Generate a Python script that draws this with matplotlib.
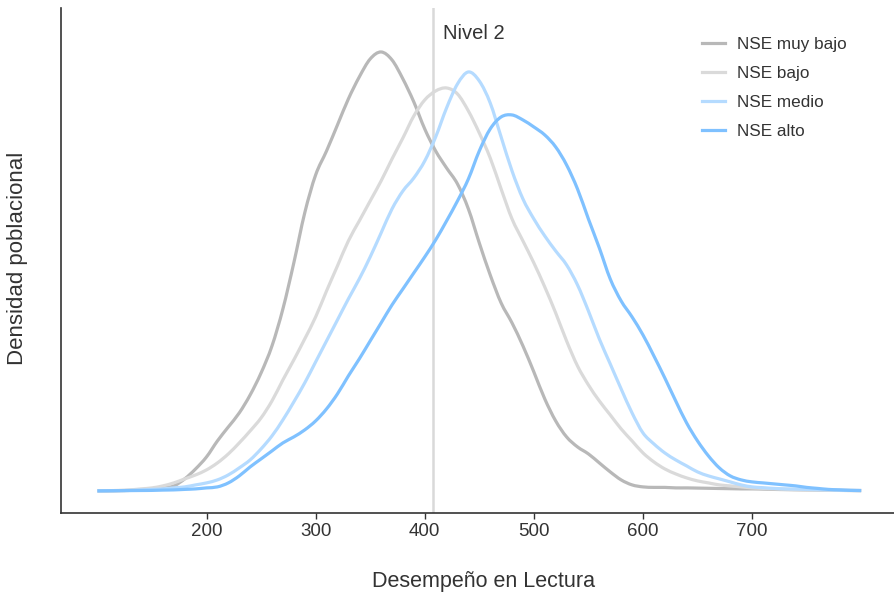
import numpy as np
import matplotlib
matplotlib.use("Agg")
import matplotlib.pyplot as plt
from matplotlib.path import Path
from matplotlib.patches import PathPatch
from matplotlib.lines import Line2D

plt.rcParams['font.family'] = ['Liberation Sans', 'DejaVu Sans']

# Score grid (Desempeño en Lectura)
x = [100, 110, 120, 130, 140, 150, 160, 170, 180, 190,
     200, 210, 220, 230, 240, 250, 260, 270, 280, 290,
     300, 310, 320, 330, 340, 350, 360, 370, 380, 390,
     400, 410, 420, 430, 440, 450, 460, 470, 480, 490,
     500, 510, 520, 530, 540, 550, 560, 570, 580, 590,
     600, 610, 620, 630, 640, 650, 660, 670, 680, 690,
     700, 710, 720, 730, 740, 750, 760, 770, 780, 790, 800]

# Population density (arbitrary units)
muy_bajo = [0, 0, 0.2, 0.5, 1, 1.5, 3, 5, 12, 22,
            34, 50, 64, 78, 96, 118, 145, 182, 228, 278,
            316, 340, 366, 392, 414, 432, 439, 431, 412, 389,
            362, 340, 323, 307, 282, 248, 216, 188, 168, 145,
            119, 92, 70, 54, 44, 37, 28, 19, 11, 6,
            4, 3.5, 3.5, 3, 3, 2.8, 2.6, 2.4, 2.2, 2,
            2, 1.8, 1.5, 1.3, 1.1, 1, 0.8, 0.6, 0.5, 0.4, 0.3]

bajo = [0, 0.2, 0.5, 1, 2, 3, 5, 8, 12, 16,
        21, 28, 37, 48, 60, 73, 90, 111, 131, 152,
        174, 200, 225, 250, 270, 290, 310, 332, 353, 375,
        391, 400, 403, 397, 380, 358, 333, 302, 272, 250,
        228, 204, 178, 150, 125, 106, 90, 76, 62, 50,
        38, 29, 22, 17, 13, 10, 8, 6, 5, 4,
        3, 2.5, 2, 1.7, 1.4, 1, 0.8, 0.6, 0.5, 0.4, 0.3]

medio = [0, 0.1, 0.3, 0.6, 1, 1.5, 2, 3, 4, 6,
         8, 11, 16, 23, 31, 42, 55, 71, 89, 108,
         129, 150, 171, 192, 212, 234, 258, 282, 300, 313,
         330, 354, 383, 407, 419, 410, 388, 354, 320, 292,
         272, 255, 240, 226, 206, 180, 152, 127, 102, 78,
         58, 47, 38, 31, 25, 19, 15, 12, 9, 6,
         4, 3.2, 2.5, 2, 1.8, 1.5, 1.2, 1, 0.8, 0.6, 0.5]

alto = [0, 0.1, 0.2, 0.3, 0.4, 0.5, 0.8, 1, 1.5, 2,
        3, 4, 8, 15, 24, 32, 40, 48, 54, 61,
        70, 82, 97, 115, 132, 150, 168, 186, 202, 218,
        234, 251, 270, 290, 312, 340, 362, 374, 376, 371,
        364, 356, 344, 326, 302, 272, 243, 212, 190, 174,
        156, 135, 113, 90, 68, 50, 35, 23, 15, 11,
        9, 8, 7, 6, 5, 3.5, 2.5, 1.5, 1, 0.5, 0.3]

series_names = ["NSE muy bajo", "NSE bajo", "NSE medio", "NSE alto"]
series_values = [muy_bajo, bajo, medio, alto]
series_colors = ["#b8b8b8", "#dadada", "#b5dbff", "#7fc1ff"]

nivel2 = 407.47
xticks = [200, 300, 400, 500, 600, 700]


def smooth_path(xs, ys):
    """Catmull-Rom spline through the read points, drawn as cubic Beziers."""
    xs = np.asarray(xs, float)
    ys = np.asarray(ys, float)
    pts = np.column_stack([xs, ys])
    verts = [pts[0]]
    codes = [Path.MOVETO]
    n = len(pts)
    for i in range(n - 1):
        p0 = pts[i - 1] if i > 0 else pts[i]
        p1 = pts[i]
        p2 = pts[i + 1]
        p3 = pts[i + 2] if i + 2 < n else pts[i + 1]
        c1 = p1 + (p2 - p0) / 6.0
        c2 = p2 - (p3 - p1) / 6.0
        verts += [c1, c2, p2]
        codes += [Path.CURVE4] * 3
    return Path(verts, codes)


fig = plt.figure(figsize=(8.95, 5.95), dpi=100)
ax = fig.add_axes([0.068, 0.138, 0.932, 0.8486])

ax.axvline(nivel2, color="#d9d9d9", lw=1.8, zorder=1)
handles = []
for name, vals, col in zip(series_names, series_values, series_colors):
    patch = PathPatch(smooth_path(x, vals), facecolor="none", edgecolor=col,
                      lw=2.3, zorder=2, capstyle='butt', joinstyle='round')
    ax.add_patch(patch)
    handles.append(Line2D([], [], color=col, lw=2.3, label=name))

ax.text(nivel2 + 9, 457, "Nivel 2", ha="left", va="center",
        fontsize=14.5, color="#333333")

ax.set_xlim(66.5, 831)
ax.set_ylim(-22, 483)
ax.set_xticks(xticks)
ax.set_xticklabels([str(t) for t in xticks])
ax.set_yticks([])
ax.tick_params(axis='x', direction='out', length=4, width=1,
               colors="#333333", labelsize=13.5, pad=3)
for s in ["top", "right"]:
    ax.spines[s].set_visible(False)
for s in ["left", "bottom"]:
    ax.spines[s].set_color("#333333")
    ax.spines[s].set_linewidth(1.2)

ax.set_xlabel("Desempeño en Lectura", fontsize=15.5, color="#333333")
ax.xaxis.set_label_coords(484 / 895, 1 - 581 / 595, transform=fig.transFigure)
ax.xaxis.label.set_va("center")
ax.set_ylabel("Densidad poblacional", fontsize=16, color="#333333")
ax.yaxis.set_label_coords(18 / 895, 1 - 258 / 595, transform=fig.transFigure)
ax.yaxis.label.set_va("center")

leg = ax.legend(handles=handles, loc="upper left",
                bbox_to_anchor=(702 / 895, 1 - 37 / 595),
                bbox_transform=fig.transFigure,
                frameon=False, fontsize=12.3, handlelength=1.35,
                handletextpad=0.7, labelspacing=0.82, borderaxespad=0,
                borderpad=0)
for t in leg.get_texts():
    t.set_color("#333333")

fig.savefig("out.png", dpi=100)
